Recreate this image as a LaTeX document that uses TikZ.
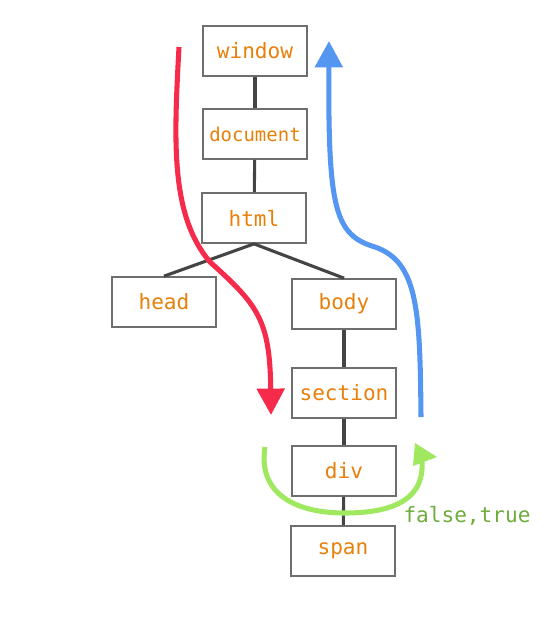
\documentclass[tikz,border=0pt]{standalone}
\usepackage{fontspec}
\setmonofont{DejaVu Sans Mono}
\usetikzlibrary{arrows.meta}
\definecolor{elemtext}{RGB}{232,128,10}
\definecolor{elemline}{RGB}{110,110,110}
\definecolor{treeline}{RGB}{68,68,68}
\definecolor{capture}{RGB}{246,42,74}
\definecolor{bubble}{RGB}{85,150,240}
\definecolor{target}{RGB}{160,232,96}
\definecolor{flagtext}{RGB}{110,172,60}
\tikzset{
  elem/.style={draw=elemline, line width=1.2pt, fill=white, minimum width=2.6cm,
    minimum height=1.25cm, text=elemtext, font=\ttfamily\fontsize{15}{18}\selectfont},
  flow/.style={line width=3.6pt, -{Triangle[length=0.66cm,width=0.68cm]}}
}
\begin{document}
\begin{tikzpicture}[x=0.025cm,y=-0.025cm]
      \useasboundingbox (0,0) rectangle (544,640);
      \draw
        (255,51) node[elem] (window){window}
        (255,134) node[elem, font=\ttfamily\fontsize{13.5}{16}\selectfont] (document){document}
        (254,218) node[elem] (html){html}
        (164,302) node[elem] (head){head}
        (344,304) node[elem] (body){body}
        (344,393) node[elem] (section){section}
        (344,471) node[elem] (div){div}
        (343,551) node[elem] (span){span};
      \begin{scope}[-, draw=treeline, line width=2.2pt]
        \draw (window) to (document);
        \draw (document) to (html);
        \draw (html.south) to (head.north);
        \draw (html.south) to (body.north);
        \draw (body) to (section);
        \draw (section) to (div);
        \draw (div) to (span);
      \end{scope}
      \coordinate (capstart) at (179,47);
      \coordinate (capend) at (271,415);
      \coordinate (bubstart) at (421,417);
      \coordinate (bubend) at (329,41);
      \coordinate (tgtstart) at (265,447);
      \coordinate (tgtend) at (422,462);
      \draw[flow, capture] (capstart) .. controls (174,140) and (170,215) .. (210,262)
        .. controls (258,305) and (270,320) .. (capend);
      \draw[flow, bubble] (bubstart) .. controls (420,310) and (418,262) .. (375,247)
        .. controls (335,235) and (328,210) .. (bubend);
      \draw[target, line width=3.6pt] (tgtstart) .. controls (258,490) and (290,513) .. (345,513)
        .. controls (400,513) and (424,495) .. (tgtend);
      \fill[target] (415,443) -- (437,457) -- (413,466) -- cycle;
      \node[text=flagtext, font=\ttfamily\fontsize{15}{18}\selectfont] (flag) at (467,516) {false,true};
    \end{tikzpicture}
\end{document}
